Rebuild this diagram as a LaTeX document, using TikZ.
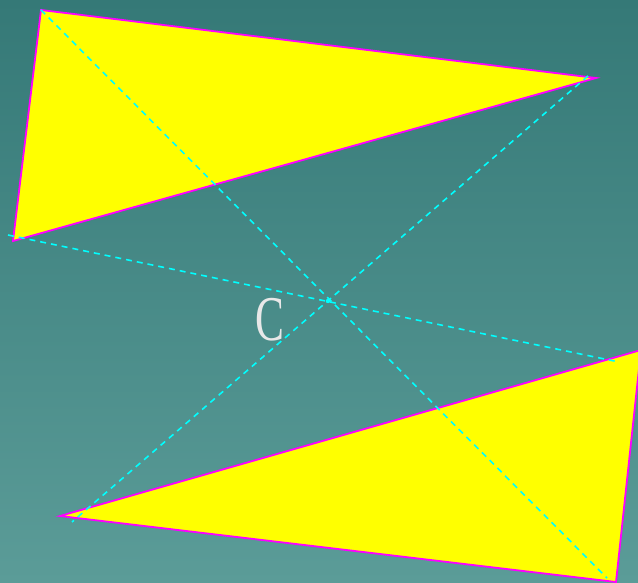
\documentclass[tikz,border=0pt]{standalone}
\usepackage{tikz}
\usepackage{fontspec}
\newfontfamily\lblfont{Liberation Serif}
\definecolor{bgtop}{RGB}{53,121,119}
\definecolor{bgbot}{RGB}{91,156,152}
\definecolor{triyel}{RGB}{255,255,0}
\definecolor{trimag}{RGB}{255,0,255}
\definecolor{dashcy}{RGB}{0,255,255}
\definecolor{lblgray}{RGB}{232,232,232}
\tikzset{
  tri/.style={fill=triyel, draw=trimag, line width=1.8pt, line join=miter},
  diag/.style={draw=dashcy, line width=1.6pt, dash pattern=on 6pt off 5pt},
}
\begin{document}
\begin{tikzpicture}[x=1bp,y=-1bp]
\useasboundingbox (0,0) rectangle (638,583);
\shade[top color=bgtop, bottom color=bgbot] (0,0) rectangle (638,583);
% triangle 1
\coordinate (A) at (41,10);
\coordinate (B) at (596,78);
\coordinate (Cc) at (13,241);
% triangle 2
\coordinate (D) at (60,516);
\coordinate (E) at (641,350);
\coordinate (F) at (616,582);
\coordinate (O) at (328,301);
\draw[tri] (A) -- (B) -- (Cc) -- cycle;
\draw[tri] (D) -- (E) -- (F) -- cycle;
% dashed lines
\coordinate (L1e) at (607,578);
\coordinate (L2s) at (588,76);
\coordinate (L2e) at (72,522);
\coordinate (L3s) at (8,235);
\coordinate (L3e) at (619,362);
\draw[diag] (A) -- (L1e);
\draw[diag] (L2s) -- (L2e);
\draw[diag] (L3s) -- (L3e);
\fill[dashcy] (O) circle (2.2bp);
\node[text=lblgray, inner sep=0pt, xscale=0.68, font=\lblfont\fontsize{64}{64}\selectfont] (lbl) at (270,320) {C};
\end{tikzpicture}
\end{document}
